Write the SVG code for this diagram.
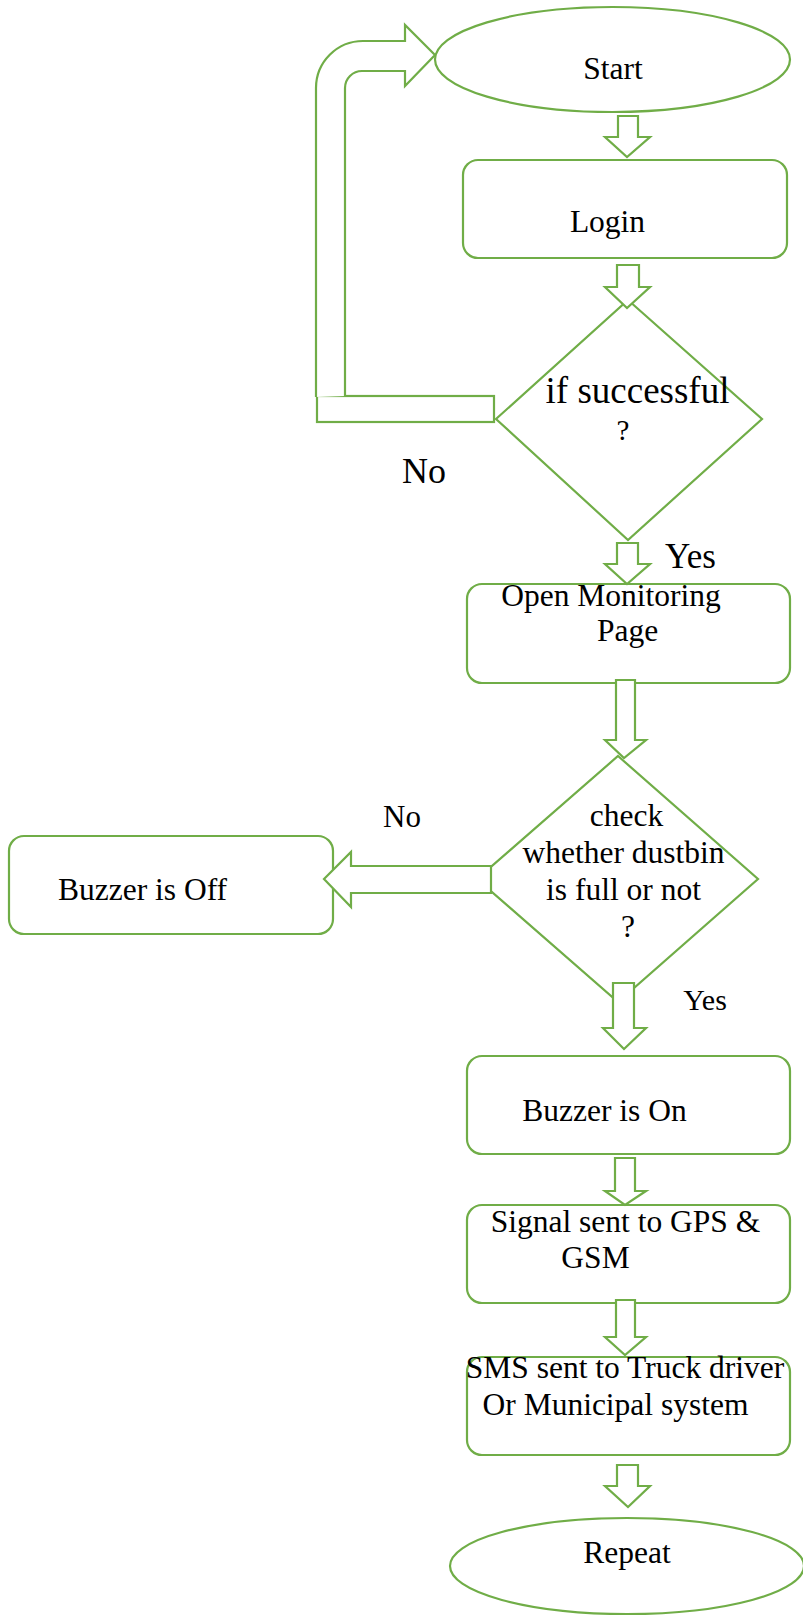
<svg xmlns="http://www.w3.org/2000/svg" width="803" height="1619" viewBox="0 0 803 1619">
<style>
.s{fill:#fff;stroke:#70AD47;stroke-width:2.2;stroke-linejoin:miter}
.t{font-family:"Liberation Serif","Times New Roman",serif;font-size:31.5px;fill:#000;text-anchor:middle}
</style>
<rect width="803" height="1619" fill="#fff"/>
<g id="start"><ellipse class="s" cx="612.5" cy="59.5" rx="177.5" ry="52.5"/><text class="t" x="613" y="79">Start</text></g>
<g id="login"><rect class="s" x="463" y="160" width="324" height="98" rx="15"/><text class="t" x="607.5" y="232">Login</text></g>
<g id="decision1"><polygon class="s" points="628,300 762,419 628,540 496,419"/><text class="t" x="637.5" y="403" style="font-size:37px">if successful</text><text class="t" x="623" y="440" style="font-size:29px">?</text></g>
<g id="monitor"><rect class="s" x="467" y="584" width="323" height="99" rx="15"/><text class="t" x="611" y="606">Open Monitoring</text><text class="t" x="627.5" y="641">Page</text></g>
<g id="decision2"><polygon class="s" points="618,756 758,879 618,1002 477,879"/><text class="t" x="626.5" y="826">check</text><text class="t" x="623.5" y="863">whether dustbin</text><text class="t" x="623.5" y="900">is full or not</text><text class="t" x="628" y="937">?</text></g>
<g id="buzzeroff"><rect class="s" x="9" y="836" width="324" height="98" rx="15"/><text class="t" x="142.5" y="900">Buzzer is Off</text></g>
<g id="buzzeron"><rect class="s" x="467" y="1056" width="323" height="98" rx="15"/><text class="t" x="604.5" y="1121">Buzzer is On</text></g>
<g id="signal"><rect class="s" x="467" y="1205" width="323" height="98" rx="15"/><text class="t" x="625.5" y="1232">Signal sent to GPS &amp;</text><text class="t" x="595.5" y="1268">GSM</text></g>
<g id="sms"><rect class="s" x="467" y="1357" width="323" height="98" rx="15"/><text class="t" x="625" y="1378">SMS sent to Truck driver</text><text class="t" x="615.5" y="1415">Or Municipal system</text></g>
<g id="repeat"><ellipse class="s" cx="627" cy="1566" rx="177" ry="48"/><text class="t" x="627" y="1563">Repeat</text></g>
<g id="connectors">
<polygon class="s" points="618,116 638,116 638,137 650,137 627,157 605,137 618,137"/>
<polygon class="s" points="617,265 639,265 639,287 650,287 627,308 605,287 617,287"/>
<rect class="s" x="317" y="396" width="177" height="26"/>
<path class="s" d="M316,397 V88 A47,47 0 0 1 363,41 H405 V25 L435,55 L405,86 V71 H362 A17,17 0 0 0 345,88 V396"/>
<polygon class="s" points="617,543 638,543 638,564 650,564 627,584 605,564 617,564"/>
<polygon class="s" points="616,680 635,680 635,740 646,740 624,758 605,740 616,740"/>
<polygon class="s" points="491,866 351,866 351,852 324,879 351,907 351,893 491,893"/>
<polygon class="s" points="613,983 634,983 634,1028 646,1028 624,1049 603,1028 613,1028"/>
<polygon class="s" points="615,1158 635,1158 635,1191 646,1191 625,1205 605,1191 615,1191"/>
<polygon class="s" points="616,1300 635,1300 635,1337 646,1337 625,1355 605,1337 616,1337"/>
<polygon class="s" points="617,1465 638,1465 638,1486 650,1486 628,1507 605,1486 617,1486"/>
<text class="t" x="424" y="483" style="font-size:36px">No</text>
<text class="t" x="690.5" y="568" style="font-size:35px">Yes</text>
<text class="t" x="402" y="827" style="font-size:31px">No</text>
<text class="t" x="705" y="1010" style="font-size:30px">Yes</text>
</g>
</svg>
